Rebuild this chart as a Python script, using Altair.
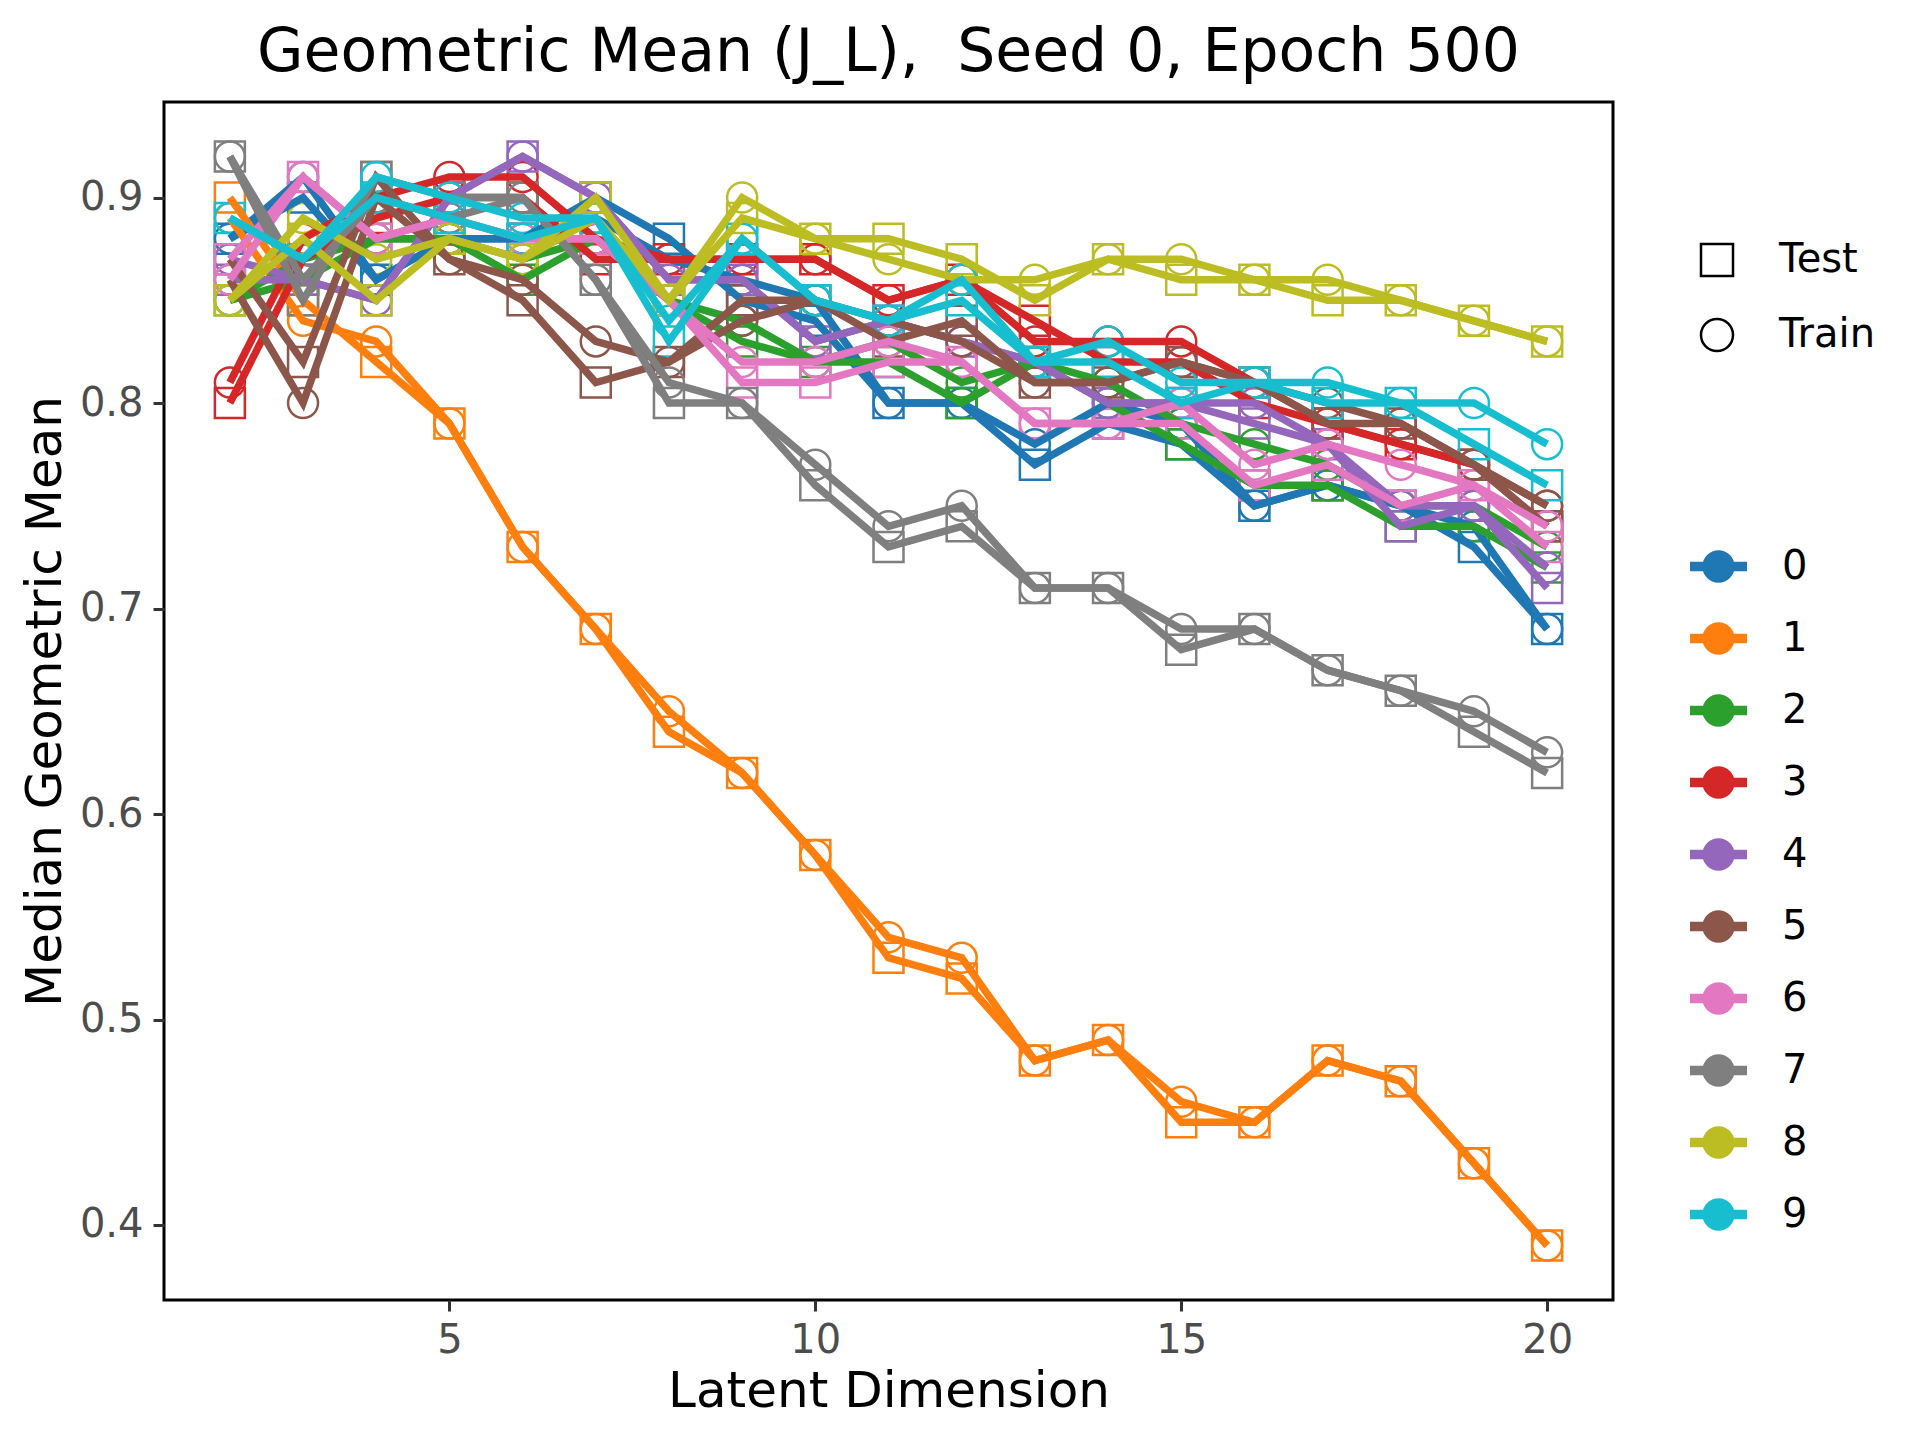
import altair as alt
import pandas as pd

dims = list(range(2, 21))
digits = [str(i) for i in range(10)]
splits = ["Test", "Train"]

# Median geometric mean per digit, latent dims 2..20
test_0 = [0.88, 0.90, 0.86, 0.88, 0.88, 0.90, 0.88, 0.85, 0.84, 0.80, 0.80, 0.77, 0.79, 0.78, 0.75, 0.76, 0.75, 0.73, 0.69]
train_0 = [0.88, 0.91, 0.86, 0.88, 0.88, 0.89, 0.87, 0.86, 0.85, 0.80, 0.80, 0.78, 0.80, 0.79, 0.75, 0.76, 0.75, 0.74, 0.69]
test_1 = [0.90, 0.85, 0.82, 0.79, 0.73, 0.69, 0.64, 0.62, 0.58, 0.53, 0.52, 0.48, 0.49, 0.45, 0.45, 0.48, 0.47, 0.43, 0.39]
train_1 = [0.89, 0.84, 0.83, 0.79, 0.73, 0.69, 0.65, 0.62, 0.58, 0.54, 0.53, 0.48, 0.49, 0.46, 0.45, 0.48, 0.47, 0.43, 0.39]
test_2 = [0.85, 0.86, 0.88, 0.88, 0.86, 0.88, 0.85, 0.83, 0.82, 0.82, 0.80, 0.82, 0.80, 0.78, 0.76, 0.76, 0.74, 0.74, 0.72]
train_2 = [0.85, 0.87, 0.88, 0.88, 0.87, 0.88, 0.85, 0.84, 0.82, 0.83, 0.81, 0.82, 0.81, 0.79, 0.78, 0.77, 0.75, 0.75, 0.73]
test_3 = [0.80, 0.87, 0.89, 0.90, 0.90, 0.87, 0.87, 0.87, 0.87, 0.85, 0.86, 0.84, 0.82, 0.82, 0.80, 0.79, 0.78, 0.77, 0.74]
train_3 = [0.81, 0.88, 0.90, 0.91, 0.91, 0.88, 0.87, 0.87, 0.87, 0.85, 0.86, 0.83, 0.83, 0.83, 0.81, 0.79, 0.78, 0.77, 0.75]
test_4 = [0.86, 0.86, 0.85, 0.90, 0.92, 0.90, 0.86, 0.86, 0.83, 0.84, 0.83, 0.82, 0.80, 0.80, 0.79, 0.78, 0.74, 0.75, 0.71]
train_4 = [0.87, 0.86, 0.85, 0.90, 0.92, 0.90, 0.86, 0.86, 0.83, 0.84, 0.83, 0.82, 0.80, 0.80, 0.80, 0.78, 0.75, 0.75, 0.72]
test_5 = [0.87, 0.82, 0.91, 0.87, 0.85, 0.81, 0.82, 0.85, 0.85, 0.83, 0.84, 0.81, 0.81, 0.82, 0.81, 0.79, 0.79, 0.77, 0.74]
train_5 = [0.86, 0.80, 0.90, 0.87, 0.86, 0.83, 0.82, 0.84, 0.85, 0.84, 0.83, 0.81, 0.81, 0.82, 0.81, 0.80, 0.79, 0.77, 0.75]
test_6 = [0.87, 0.91, 0.88, 0.89, 0.88, 0.88, 0.85, 0.81, 0.81, 0.82, 0.82, 0.79, 0.79, 0.79, 0.76, 0.77, 0.75, 0.76, 0.73]
train_6 = [0.86, 0.91, 0.88, 0.89, 0.88, 0.88, 0.85, 0.82, 0.82, 0.83, 0.82, 0.79, 0.79, 0.80, 0.77, 0.78, 0.77, 0.76, 0.74]
test_7 = [0.92, 0.85, 0.91, 0.90, 0.90, 0.86, 0.80, 0.80, 0.76, 0.73, 0.74, 0.71, 0.71, 0.68, 0.69, 0.67, 0.66, 0.64, 0.62]
train_7 = [0.92, 0.86, 0.90, 0.89, 0.90, 0.86, 0.81, 0.80, 0.77, 0.74, 0.75, 0.71, 0.71, 0.69, 0.69, 0.67, 0.66, 0.65, 0.63]
test_8 = [0.85, 0.88, 0.85, 0.88, 0.87, 0.90, 0.85, 0.89, 0.88, 0.88, 0.87, 0.85, 0.87, 0.86, 0.86, 0.85, 0.85, 0.84, 0.83]
train_8 = [0.85, 0.89, 0.87, 0.88, 0.87, 0.89, 0.85, 0.90, 0.88, 0.87, 0.86, 0.86, 0.87, 0.87, 0.86, 0.86, 0.85, 0.84, 0.83]
test_9 = [0.89, 0.87, 0.90, 0.89, 0.88, 0.89, 0.83, 0.88, 0.85, 0.84, 0.85, 0.82, 0.82, 0.80, 0.81, 0.80, 0.80, 0.78, 0.76]
train_9 = [0.89, 0.87, 0.91, 0.90, 0.89, 0.89, 0.84, 0.88, 0.85, 0.84, 0.86, 0.82, 0.83, 0.81, 0.81, 0.81, 0.80, 0.80, 0.78]

tests = [test_0, test_1, test_2, test_3, test_4, test_5, test_6, test_7, test_8, test_9]
trains = [train_0, train_1, train_2, train_3, train_4, train_5, train_6, train_7, train_8, train_9]

colors = ["#1f77b4", "#ff7f0e", "#2ca02c", "#d62728", "#9467bd",
          "#8c564b", "#e377c2", "#7f7f7f", "#bcbd22", "#17becf"]

rows = []
for i, d in enumerate(digits):
    for split, series in (("Test", tests[i]), ("Train", trains[i])):
        for dim, v in zip(dims, series):
            rows.append({"dim": dim, "value": v, "digit": d, "split": split})
df = pd.DataFrame(rows)

FONT = "DejaVu Sans"

# legend symbol: horizontal line with a filled dot (dot filled by concentric strokes)
def ring(r):
    return f"M{r},0A{r},{r} 0 1,1 {-r},0A{r},{r} 0 1,1 {r},0Z"

line_dot = "M-1,0L1,0" + ring(0.40) + ring(0.16)

color_legend = alt.Legend(
    title=None, orient="none", legendX=1521, legendY=431,
    symbolType=line_dot, symbolSize=3249, symbolStrokeWidth=9.5,
    symbolOpacity=1, rowPadding=8, labelOffset=30, padding=0,
    labelFont=FONT, labelFontSize=40, labelColor="black",
)
shape_legend = alt.Legend(
    title=None, orient="none", legendX=1533, legendY=138,
    symbolSize=1024, symbolStrokeWidth=2.5, symbolStrokeColor="black",
    symbolFillColor="transparent", symbolOpacity=1, rowPadding=33,
    labelOffset=42, padding=0,
    labelFont=FONT, labelFontSize=40, labelColor="black",
)

color_scale = alt.Scale(domain=digits, range=colors)
shape_scale = alt.Scale(domain=splits, range=["square", "circle"])

x_enc = alt.X(
    "dim:Q",
    scale=alt.Scale(domain=[1.1, 20.9], nice=False, zero=False),
    axis=alt.Axis(values=[5, 10, 15, 20], title="Latent Dimension",
                  titleY=106, titleBaseline="alphabetic", labelPadding=9),
)
y_enc = alt.Y(
    "value:Q",
    scale=alt.Scale(domain=[0.3635, 0.9465], nice=False, zero=False),
    axis=alt.Axis(values=[0.4, 0.5, 0.6, 0.7, 0.8, 0.9], format=".1f",
                  title="Median Geometric Mean", titleX=-104,
                  titleBaseline="alphabetic", labelPadding=10),
)

base = alt.Chart(df)

points = base.mark_point(filled=False, size=900, strokeWidth=2.5, opacity=1).encode(
    x=x_enc, y=y_enc,
    color=alt.Color("digit:N", scale=color_scale, legend=color_legend),
    shape=alt.Shape("split:N", scale=shape_scale, legend=shape_legend),
)

lines = base.mark_line(strokeWidth=7.5).encode(
    x=x_enc, y=y_enc,
    color=alt.Color("digit:N", scale=color_scale, legend=color_legend),
    detail="split:N",
)

chart = alt.layer(points, lines).properties(
    width=1449, height=1198,
    title=alt.TitleParams(
        "Geometric Mean (J_L),\u00a0 Seed 0, Epoch 500",
        fontSize=60, fontWeight="normal", font=FONT, color="black",
        anchor="middle", offset=20, dy=49, baseline="alphabetic",
    ),
    autosize=alt.AutoSizeParams(type="none"),
    padding={"left": 156, "top": 94, "right": 290, "bottom": 130},
).configure(
    font=FONT,
).configure_view(
    stroke="black", strokeWidth=3,
).configure_axis(
    domain=False, grid=False, ticks=True, tickColor="#333333", tickWidth=3,
    tickSize=11, labelColor="#4d4d4d", labelFontSize=40, labelFont=FONT,
    titleFontSize=50, titleFont=FONT, titleColor="black", titleFontWeight="normal",
)

chart.save("out.html", embed_options={"renderer": "svg", "actions": False})
